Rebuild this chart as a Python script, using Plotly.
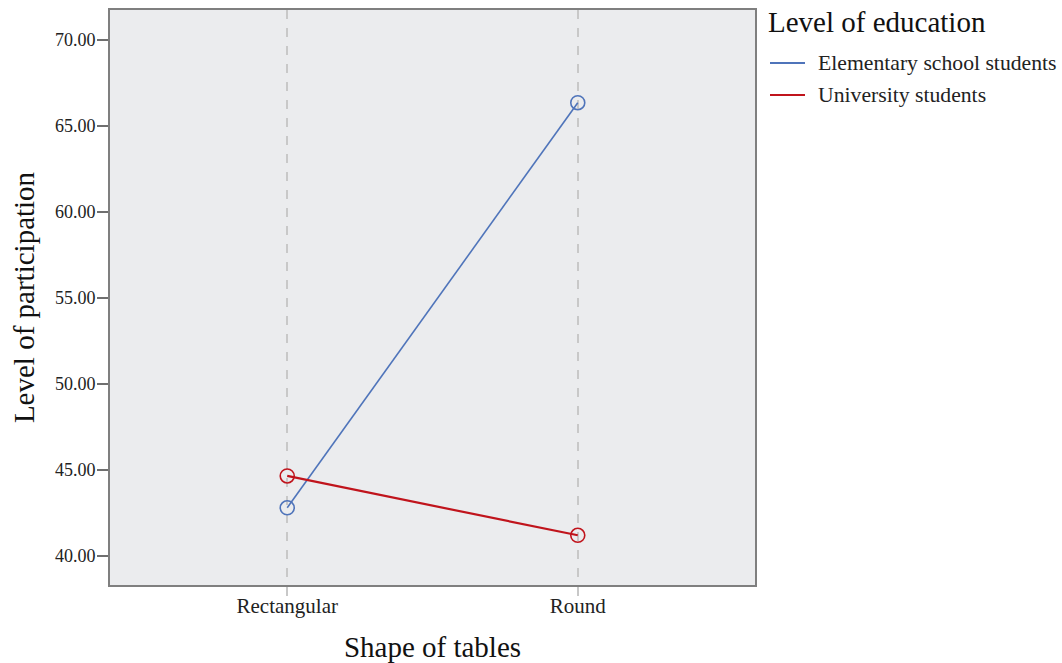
import plotly.graph_objects as go

categories = ["Rectangular", "Round"]
elementary = [42.8, 66.35]
university = [44.65, 41.2]
series_names = ["Elementary school students", "University students"]
colors = ["#4F74BA", "#C0141C"]
y_ticks = [40, 45, 50, 55, 60, 65, 70]
y_tick_labels = ["40.00", "45.00", "50.00", "55.00", "60.00", "65.00", "70.00"]
legend_title = "Level of education"

FONT = "Liberation Serif, Times New Roman, serif"

# plot area in pixels (for legend placement in paper coords)
L, T, PW, PH = 110, 10, 645, 575
def px_x(x):
    return (x - L) / PW
def px_y(y):
    return 1 - (y - T) / PH

fig = go.Figure()
for name, vals, col, w in zip(series_names, [elementary, university], colors, [1.6, 2.2]):
    fig.add_trace(go.Scatter(
        x=categories, y=vals, name=name, mode="lines+markers", showlegend=False,
        line=dict(color=col, width=w),
        marker=dict(symbol="circle-open", size=14, color=col, line=dict(width=1.6, color=col)),
    ))

# manual legend (lines only, like the reference)
annotations = [dict(
    text=legend_title, xref="paper", yref="paper", x=px_x(766), y=px_y(22),
    xanchor="left", yanchor="middle", showarrow=False,
    font=dict(size=29, family=FONT, color="#111111"),
)]
shapes = []
for i, (name, col) in enumerate(zip(series_names, colors)):
    yy = px_y(63 + 32 * i)
    shapes.append(dict(type="line", xref="paper", yref="paper",
                       x0=px_x(770), x1=px_x(805), y0=yy, y1=yy,
                       line=dict(color=col, width=2.2)))
    annotations.append(dict(
        text=name, xref="paper", yref="paper", x=px_x(816), y=yy,
        xanchor="left", yanchor="middle", showarrow=False,
        font=dict(size=21.7, family=FONT, color="#222222"),
    ))

fig.update_layout(
    width=1062, height=663,
    margin=dict(l=L, r=1062 - L - PW, t=T, b=663 - T - PH),
    paper_bgcolor="white",
    plot_bgcolor="#EBECEE",
    font=dict(family=FONT, color="#222222"),
    showlegend=False,
    annotations=annotations,
    shapes=shapes,
)

fig.update_xaxes(
    type="category", range=[-0.61, 1.61], automargin=False,
    showgrid=True, gridcolor="#C8C8C8", griddash="dash", gridwidth=1.5,
    ticks="outside", ticklen=9, tickcolor="#C8C8C8", tickwidth=1.5,
    ticklabelstandoff=-8,
    tickfont=dict(size=21, family=FONT, color="#222222"),
    title=dict(text="Shape of tables", font=dict(size=29, family=FONT, color="#111111"), standoff=19),
    showline=True, linecolor="#7F7F7F", linewidth=2, mirror=True,
    zeroline=False,
)
fig.update_yaxes(
    range=[38.31, 71.74], automargin=False,
    tickvals=y_ticks, ticktext=y_tick_labels,
    showgrid=False, zeroline=False,
    ticks="outside", ticklen=11, tickcolor="#6F6F6F", tickwidth=2,
    ticklabelstandoff=-2,
    tickfont=dict(size=18, family=FONT, color="#222222"),
    title=dict(text="Level of participation", font=dict(size=29, family=FONT, color="#111111"), standoff=12),
    showline=True, linecolor="#7F7F7F", linewidth=2, mirror=True,
)

fig.write_html(
    "out.html",
    config={"displayModeBar": False},
    post_script="document.body.style.margin='0';document.body.style.overflow='hidden';",
)
